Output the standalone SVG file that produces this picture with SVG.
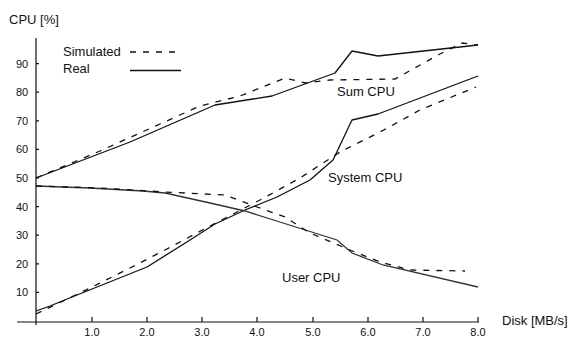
<svg xmlns="http://www.w3.org/2000/svg" width="575" height="337" viewBox="0 0 575 337">
<style>
text{font-family:"Liberation Sans",Arial,sans-serif;fill:#111}
.t{font-size:11px}
.l{font-size:13px}
.ax{stroke:#111;stroke-width:1.2;fill:none}
.real{stroke:#111;stroke-width:1.3;fill:none;stroke-linejoin:round}
.sim{stroke:#111;stroke-width:1.3;fill:none;stroke-dasharray:6 7}
.user{stroke:#333;stroke-width:1.3;fill:none}
</style>
<rect width="575" height="337" fill="#fff"/>
<g id="axes">
<path class="ax" d="M36 38V325M17 322H479"/>
<path class="ax" d="M36 63.6h3M36 92.2h3M36 120.8h3M36 149.4h3M36 178h3M36 206.6h3M36 235.2h3M36 263.8h3M36 292.4h3"/>
<path class="ax" d="M92 322v-5M147 322v-5M202 322v-5M257 322v-5M313 322v-5M368 322v-5M423 322v-5M478 322v-5"/>
<g class="t" text-anchor="middle">
<text x="22" y="67.6">90</text><text x="22" y="96.2">80</text><text x="22" y="124.8">70</text>
<text x="22" y="153.4">60</text><text x="22" y="182">50</text><text x="22" y="210.6">40</text>
<text x="22" y="239.2">30</text><text x="22" y="267.8">20</text><text x="22" y="296.4">10</text>
<text x="92" y="336">1.0</text><text x="147" y="336">2.0</text><text x="202" y="336">3.0</text>
<text x="257" y="336">4.0</text><text x="313" y="336">5.0</text><text x="368" y="336">6.0</text>
<text x="423" y="336">7.0</text><text x="478" y="336">8.0</text>
</g>
<text class="l" x="9" y="24">CPU [%]</text>
<text class="l" x="502" y="325">Disk [MB/s]</text>
</g>
<g id="legend">
<text class="l" x="63" y="56">Simulated</text>
<text class="l" x="63" y="73">Real</text>
<path class="sim" d="M130 52H178"/>
<path class="real" d="M130 70.5H181"/>
</g>
<g id="connectors">
<path id="sum-real" class="real" d="M36 178L130 142L215 105L272 96L335 73L352 51L378 56L478 45"/>
<path id="sum-sim" class="sim" d="M36 178L100 151L160 124L200 106L240 96L285 78L305 83L330 80L395 79L440 54L462 43L478 45"/>
<path id="sys-real" class="real" d="M36 311L50 306L77 295L92 289L147 267L190 240L215 224L245 210L277 197L310 180L333 160L352 120L378 114L478 76"/>
<path id="sys-sim" class="sim" d="M36 314L90 288L130 268L165 250L210 226L260 200L300 178L340 152L380 132L420 110L476 87"/>
<path id="user-real" class="user" d="M36 186L90 188L143 191L165 193L210 203L245 211L283 223L337 240L352 253L383 265L478 287"/>
<path id="user-sim" class="sim" d="M36 186L100 188L165 192L225 195L257 207L285 217L310 233L350 250L380 262L410 270L465 271"/>
</g>
<g id="labels" class="l">
<text class="l" x="337" y="96">Sum CPU</text>
<text class="l" x="328" y="182">System CPU</text>
<text class="l" x="282" y="282">User CPU</text>
</g>
</svg>
